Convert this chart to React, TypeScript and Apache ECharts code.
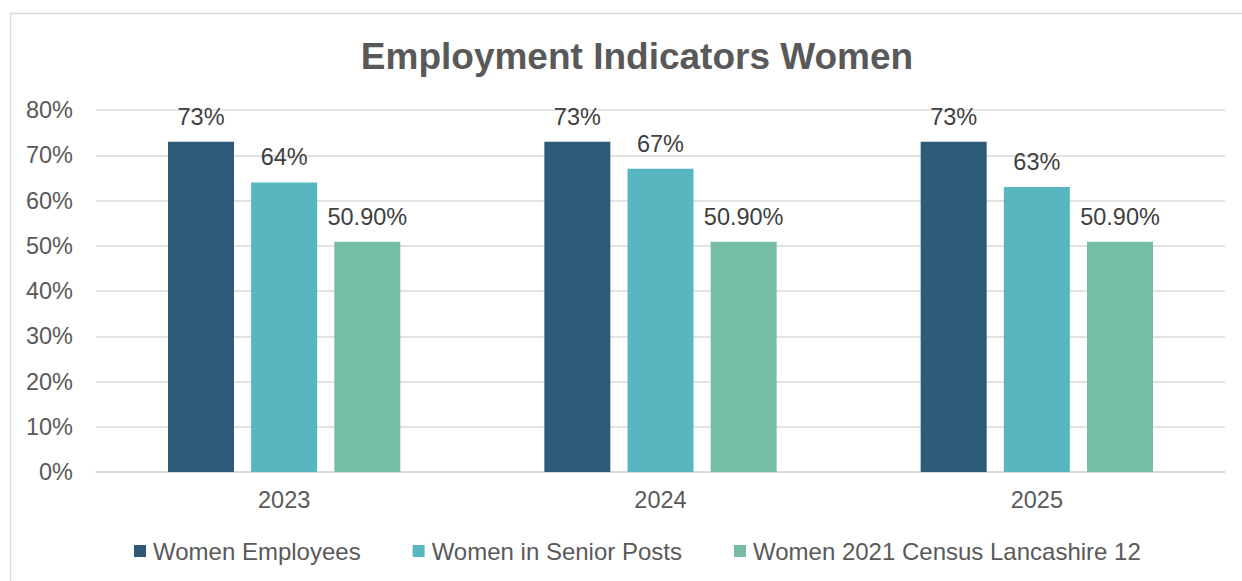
import React, { useEffect, useRef } from "react";
import * as echarts from "echarts";

const categories = ["2023", "2024", "2025"];
const seriesNames = ["Women Employees", "Women in Senior Posts", "Women 2021 Census Lancashire 12"];
const womenEmployees = [73, 73, 73];
const womenSeniorPosts = [64, 67, 63];
const womenCensus = [50.9, 50.9, 50.9];
const labelDecimals = [0, 0, 2];
const colors = ["#2D5A77", "#58B6C0", "#75BDA7"];
const yTicks = [0, 10, 20, 30, 40, 50, 60, 70, 80];

export default function App() {
  const ref = useRef<HTMLDivElement>(null);
  useEffect(() => {
    if (!ref.current) return;
    const chart = echarts.init(ref.current, null, { renderer: "svg" });
    const font = "'Liberation Sans', Arial, sans-serif";
    const data = [womenEmployees, womenSeniorPosts, womenCensus];
    chart.setOption({
      animation: false,
      backgroundColor: "#ffffff",
      textStyle: { fontFamily: font },
      graphic: [
        {
          type: "rect",
          shape: { x: 10.5, y: 13.5, width: 1260, height: 600 },
          style: { fill: "none", stroke: "#D9D9D9", lineWidth: 1.5 },
          silent: true,
        },
      ],
      title: {
        text: "Employment Indicators Women",
        left: 632,
        top: 33,
        textAlign: "center",
        textStyle: { fontFamily: font, fontSize: 37, fontWeight: "bold", color: "#595959" },
      },
      legend: {
        data: seriesNames,
        left: 134,
        top: 539,
        padding: 0,
        itemWidth: 12,
        itemHeight: 12,
        itemGap: 52,
        icon: "rect",
        textStyle: { fontFamily: font, fontSize: 24, color: "#595959", padding: [0, 0, 0, 2] },
      },
      grid: { left: 96, right: 17, top: 110, bottom: 109, containLabel: false },
      xAxis: {
        type: "category",
        data: categories,
        axisLine: { lineStyle: { color: "#D9D9D9", width: 1.5 } },
        axisTick: { show: false },
        axisLabel: { fontFamily: font, fontSize: 23.5, color: "#595959", margin: 16 },
      },
      yAxis: {
        type: "value",
        min: yTicks[0],
        max: yTicks[yTicks.length - 1],
        interval: 10,
        axisLine: { show: false },
        axisTick: { show: false },
        splitLine: { lineStyle: { color: "#D9D9D9", width: 1.5 } },
        axisLabel: {
          fontFamily: font,
          fontSize: 23.5,
          color: "#595959",
          margin: 23,
          formatter: (v: number) => v + "%",
        },
      },
      series: seriesNames.map((name, i) => ({
        name,
        type: "bar",
        data: data[i],
        barWidth: 66,
        barGap: "26%",
        itemStyle: { color: colors[i] },
        label: {
          show: true,
          position: "top",
          distance: 13,
          fontFamily: font,
          fontSize: 23.5,
          color: "#404040",
          formatter: (p: any) => Number(p.value).toFixed(labelDecimals[i]) + "%",
        },
      })),
    });
    return () => chart.dispose();
  }, []);
  return (
    <div
      ref={ref}
      style={{ position: "fixed", left: 0, top: 0, width: 1242, height: 581 }}
    />
  );
}
